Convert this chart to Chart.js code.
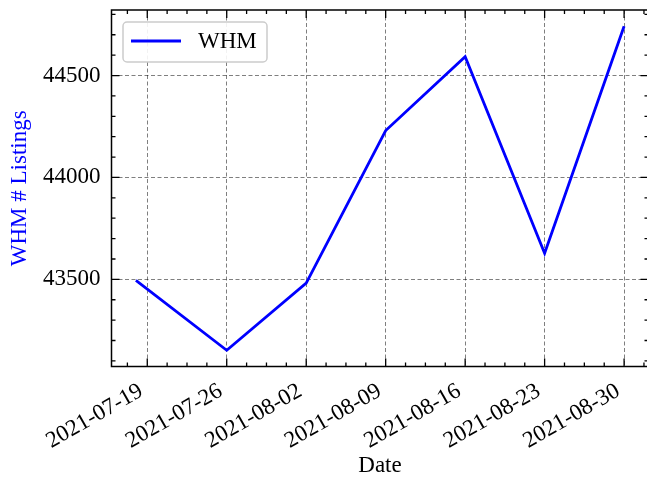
<!DOCTYPE html>
<html><head><meta charset="utf-8">
<script src="https://cdn.jsdelivr.net/npm/chart.js@4.4.1/dist/chart.umd.min.js"></script>
<style>
html,body{margin:0;padding:0;overflow:hidden;background:#fff;width:647px;height:480px}
#wrap{position:relative;width:652px;height:480px}
</style></head>
<body><div id="wrap"><canvas id="c"></canvas></div>
<script>
const dates = ['2021-07-18','2021-07-26','2021-08-02','2021-08-09','2021-08-16','2021-08-23','2021-08-30'];
const listings = [43495, 43152, 43482, 44230, 44592, 43628, 44742];
const xTickLabels = ['2021-07-19','2021-07-26','2021-08-02','2021-08-09','2021-08-16','2021-08-23','2021-08-30'];
const yTickValues = [43500, 44000, 44500];
const seriesName = 'WHM';
const yTitle = 'WHM # Listings';
const xTitle = 'Date';

const DAY = 86400000;
const toDay = s => { const [yy,mm,dd] = s.split('-').map(Number); return Date.UTC(yy,mm-1,dd)/DAY; };
const xVals = dates.map(toDay);
const xTickVals = xTickLabels.map(toDay);
const labelFor = {}; xTickVals.forEach((v,i)=>labelFor[v]=xTickLabels[i]);

const margin = (arr) => { const lo=Math.min(...arr), hi=Math.max(...arr), m=(hi-lo)*0.05; return [lo-m, hi+m]; };
const [xMin, xMax] = margin(xVals);
const [yMin, yMax] = margin(listings);

const FONT = "'Liberation Serif', 'Times New Roman', serif";
const FS = 23;
const BLUE = '#0000ff';

const framePlugin = {
  id: 'frame',
  afterDraw(chart) {
    const {ctx, chartArea: a, scales: {x, y}} = chart;
    ctx.save();
    ctx.strokeStyle = '#000';
    ctx.lineWidth = 1.5;
    ctx.setLineDash([]);
    ctx.strokeRect(a.left, a.top, a.right - a.left, a.bottom - a.top);
    const MAJ = 8, MIN = 4;
    ctx.lineWidth = 1.3;
    const xStepMinor = (xTickVals[1] - xTickVals[0]) / 4;
    for (let v = xTickVals[0] - Math.floor((xTickVals[0]-xMin)/xStepMinor)*xStepMinor; v <= xMax; v += xStepMinor) {
      const px = x.getPixelForValue(v);
      const isMajor = xTickVals.some(t => Math.abs(t - v) < 1e-6);
      const len = isMajor ? MAJ : MIN;
      ctx.beginPath();
      ctx.moveTo(px, a.bottom); ctx.lineTo(px, a.bottom - len);
      ctx.moveTo(px, a.top); ctx.lineTo(px, a.top + len);
      ctx.stroke();
    }
    const yStepMinor = (yTickValues[1] - yTickValues[0]) / 5;
    for (let v = Math.ceil(yMin / yStepMinor) * yStepMinor; v <= yMax; v += yStepMinor) {
      const py = y.getPixelForValue(v);
      const isMajor = yTickValues.some(t => Math.abs(t - v) < 1e-6);
      const len = isMajor ? MAJ : MIN;
      ctx.beginPath();
      ctx.moveTo(a.left, py); ctx.lineTo(a.left + len, py);
      ctx.moveTo(a.right, py); ctx.lineTo(a.right - len, py);
      ctx.stroke();
    }
    // legend
    const bx = 123, by = 22, bw = 144, bh = 40, r = 4;
    ctx.beginPath();
    ctx.moveTo(bx + r, by);
    ctx.arcTo(bx + bw, by, bx + bw, by + bh, r);
    ctx.arcTo(bx + bw, by + bh, bx, by + bh, r);
    ctx.arcTo(bx, by + bh, bx, by, r);
    ctx.arcTo(bx, by, bx + bw, by, r);
    ctx.closePath();
    ctx.fillStyle = 'rgba(255,255,255,0.9)';
    ctx.fill();
    ctx.strokeStyle = '#cccccc';
    ctx.lineWidth = 1.5;
    ctx.stroke();
    ctx.strokeStyle = BLUE;
    ctx.lineWidth = 2.8;
    ctx.beginPath(); ctx.moveTo(131, 41); ctx.lineTo(181, 41); ctx.stroke();
    ctx.fillStyle = '#000';
    ctx.font = FS + "px " + FONT;
    ctx.textBaseline = 'middle';
    ctx.textAlign = 'left';
    ctx.fillText(chart.data.datasets[0].label, 198, 42);
    ctx.restore();
  }
};

new Chart(document.getElementById('c'), {
  type: 'line',
  data: {
    datasets: [{
      label: seriesName,
      data: xVals.map((v, i) => ({x: v, y: listings[i]})),
      borderColor: BLUE,
      borderWidth: 2.8,
      pointRadius: 0,
      tension: 0,
      fill: false
    }]
  },
  options: {
    responsive: true,
    maintainAspectRatio: false,
    animation: false,
    devicePixelRatio: 1,
    layout: {padding: {top: 10, right: 3.5, left: 0, bottom: 0}},
    plugins: {legend: {display: false}, tooltip: {enabled: false}},
    scales: {
      x: {
        type: 'linear',
        min: xMin, max: xMax,
        afterBuildTicks: s => { s.ticks = xTickVals.map(v => ({value: v})); },
        afterFit: s => { s.height = 113.5; s.paddingLeft = 0; s.paddingRight = 0; },
        ticks: {
          callback: v => labelFor[v] || '',
          maxRotation: 30, minRotation: 30,
          autoSkip: false,
          padding: 11,
          labelOffset: -6,
          color: '#000',
          font: {family: FONT, size: FS}
        },
        grid: {color: 'rgba(0,0,0,0.5)', lineWidth: 1, drawTicks: false},
        border: {display: false, dash: [4, 2.5]},
        title: {display: true, text: xTitle, color: '#000', font: {family: FONT, size: FS}, padding: {top: 0, bottom: 0}}
      },
      y: {
        type: 'linear',
        min: yMin, max: yMax,
        afterBuildTicks: s => { s.ticks = yTickValues.map(v => ({value: v})); },
        afterFit: s => { s.width = 111.5; s.paddingTop = 0; s.paddingBottom = 0; },
        ticks: {
          callback: v => String(v),
          padding: 11,
          color: '#000',
          font: {family: FONT, size: FS}
        },
        grid: {color: 'rgba(0,0,0,0.5)', lineWidth: 1, drawTicks: false},
        border: {display: false, dash: [4, 2.5]},
        title: {display: true, text: yTitle, color: BLUE, font: {family: FONT, size: FS}, padding: {top: 6, bottom: 0}}
      }
    }
  },
  plugins: [framePlugin]
});
</script></body></html>
